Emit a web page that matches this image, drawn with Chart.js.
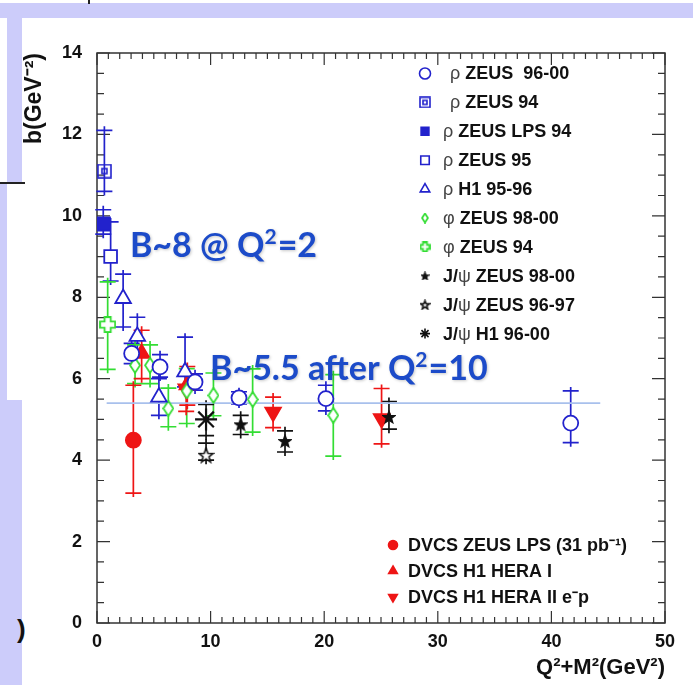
<!DOCTYPE html>
<html>
<head>
<meta charset="utf-8">
<script src="https://cdn.jsdelivr.net/npm/chart.js@4.4.1/dist/chart.umd.min.js"></script>
<style>
body{margin:0;background:#fff;}
#wrap{position:relative;width:693px;height:685px;overflow:hidden;background:#fff;}
.band{position:absolute;background:#ccccfa;}
.blk{position:absolute;background:#222;}
canvas{position:absolute;left:0;top:0;}
#paren{position:absolute;left:17px;top:614px;font:bold 26px "Liberation Sans",Arial,sans-serif;color:#111;}
</style>
</head>
<body>
<div id="wrap">
  <div class="band" style="left:0;top:3px;width:693px;height:15px"></div>
  <div class="band" style="left:7px;top:3px;width:15px;height:180px"></div>
  <div class="band" style="left:0;top:183px;width:7px;height:502px"></div>
  <div class="band" style="left:0;top:400px;width:22px;height:285px"></div>
  <div class="blk" style="left:0;top:182px;width:25px;height:2px"></div>
  <div class="blk" style="left:88px;top:0;width:2px;height:4px"></div>
  <div id="paren">)</div>
  <canvas id="myChart" width="693" height="685"></canvas>
</div>
<script>
// values: x = Q^2+M^2 (GeV^2), y = b (GeV^-2), asymmetric errors
const rhoZeus9600X  = [3.05, 5.55, 8.63, 12.5, 20.15, 41.7];
const rhoZeus9600Y  = [6.62, 6.29, 5.92, 5.53, 5.51, 4.91];
const rhoZeus9600Up = [0.25, 0.3, 0.2, 0.15, 0.33, 0.79];
const rhoZeus9600Dn = [0.25, 0.25, 0.2, 0.15, 0.3, 0.48];

const rhoZeus94X = [0.65], rhoZeus94Y = [11.1], rhoZeus94Up = [1.0], rhoZeus94Dn = [0.5];
const rhoLps94X = [0.55], rhoLps94Y = [9.8], rhoLps94Up = [0.35], rhoLps94Dn = [0.25];
const rhoZeus95X = [1.2], rhoZeus95Y = [9.0], rhoZeus95Up = [0.85], rhoZeus95Dn = [0.6];

const rhoH1X  = [2.3, 3.55, 5.45, 7.75];
const rhoH1Y  = [7.97, 7.04, 5.55, 6.17];
const rhoH1Up = [0.6, 0.47, 0.45, 0.85];
const rhoH1Dn = [0.7, 0.4, 0.45, 0.37];

const phiZeus9800X  = [3.35, 4.67, 6.28, 7.9, 10.25, 13.7, 20.8];
const phiZeus9800Y  = [6.33, 6.33, 5.27, 5.7, 5.59, 5.49, 5.1];
const phiZeus9800Up = [0.5, 0.5, 0.5, 0.55, 0.55, 0.75, 1.0];
const phiZeus9800Dn = [0.45, 0.45, 0.45, 0.8, 0.5, 0.8, 1.0];

const phiZeus94X = [0.94], phiZeus94Y = [7.33], phiZeus94Up = [1.05], phiZeus94Dn = [1.1];

const jpsiZeus9800X  = [12.65, 16.55, 25.7];
const jpsiZeus9800Y  = [4.88, 4.47, 5.06];
const jpsiZeus9800Up = [0.22, 0.25, 0.38];
const jpsiZeus9800Dn = [0.25, 0.27, 0.3];

const jpsiZeus9697X = [9.6], jpsiZeus9697Y = [4.12], jpsiZeus9697Up = [0.3], jpsiZeus9697Dn = [0.12];
const jpsiH1X = [9.6], jpsiH1Y = [5.0], jpsiH1Up = [0.37], jpsiH1Dn = [0.4];

const dvcsZeusX = [3.2], dvcsZeusY = [4.49], dvcsZeusUp = [1.35], dvcsZeusDn = [1.3];
const dvcsH1IX  = [3.93, 7.95], dvcsH1IY = [6.62, 5.85], dvcsH1IUp = [0.57, 0.45], dvcsH1IDn = [0.62, 0.5];
const dvcsH1IIX  = [7.85, 15.5, 25.05];
const dvcsH1IIY  = [5.75, 5.18, 5.02];
const dvcsH1IIUp = [0.35, 0.37, 0.74];
const dvcsH1IIDn = [0.55, 0.38, 0.62];

const guideX = [0.85, 44.3], guideY = [5.4, 5.4];

// slide annotations; "^" marks a superscript run
const notes = [
  {parts: ['B~8 @ Q', '^2', '=2'], x: 2.9, y: 9.28},
  {parts: ['B~5.5 after Q', '^2', '=10'], x: 9.95, y: 6.26}
];

const BLUE = '#2222cc', GREEN = '#33dd33', RED = '#ee1515', BLACK = '#111111';

// little canvases for the ROOT markers Chart.js doesn't have
function icon(w, h, draw) {
  const c = document.createElement('canvas');
  c.width = w; c.height = h;
  draw(c.getContext('2d'), w, h);
  return c;
}
function starPath(g, cx, cy, R, r) {
  g.beginPath();
  for (let i = 0; i < 10; i++) {
    const a = -Math.PI / 2 + i * Math.PI / 5, rr = i % 2 ? r : R;
    g.lineTo(cx + rr * Math.cos(a), cy + rr * Math.sin(a));
  }
  g.closePath();
}
function sqInSq(s) {
  return icon(s, s, (g, w) => {
    g.strokeStyle = BLUE; g.lineWidth = 1.6;
    g.strokeRect(1, 1, w - 2, w - 2);
    const k = Math.round(w * 0.32);
    g.strokeRect(k, k, w - 2 * k, w - 2 * k);
  });
}
function openPlus(s) {
  return icon(s, s, (g, w) => {
    const a = w * 0.32, b = w - a, e = 1;
    g.strokeStyle = GREEN; g.lineWidth = 1.8; g.fillStyle = '#fff';
    g.beginPath();
    g.moveTo(a, e); g.lineTo(b, e); g.lineTo(b, a); g.lineTo(w - e, a); g.lineTo(w - e, b);
    g.lineTo(b, b); g.lineTo(b, w - e); g.lineTo(a, w - e); g.lineTo(a, b); g.lineTo(e, b);
    g.lineTo(e, a); g.lineTo(a, a); g.closePath();
    g.fill(); g.stroke();
  });
}
function diamond(w, h) {
  return icon(w, h, (g) => {
    g.strokeStyle = GREEN; g.lineWidth = 1.8; g.fillStyle = '#fff';
    g.beginPath();
    g.moveTo(w / 2, 1); g.lineTo(w - 1, h / 2); g.lineTo(w / 2, h - 1); g.lineTo(1, h / 2);
    g.closePath(); g.fill(); g.stroke();
  });
}
function star(s, filled) {
  return icon(s, s, (g, w) => {
    starPath(g, w / 2, w / 2 + 0.5, w / 2 - 1, (w / 2 - 1) * 0.42);
    g.lineWidth = 1.6; g.strokeStyle = BLACK; g.fillStyle = filled ? BLACK : '#fff';
    g.fill(); g.stroke();
  });
}

function pts(xs, ys) {
  return xs.map((x, i) => ({x: x, y: ys[i]}));
}
function series(label, xs, ys, up, dn, color, style, legStyle) {
  return Object.assign({
    label: label,
    data: pts(xs, ys),
    errUp: up, errDn: dn,
    borderColor: color,
    backgroundColor: color,
    borderWidth: 1.8,
    showLine: false,
    legendStyle: legStyle
  }, style);
}

const datasets = [
  series('ρ ZEUS  96-00', rhoZeus9600X, rhoZeus9600Y, rhoZeus9600Up, rhoZeus9600Dn, BLUE,
    {pointStyle: 'circle', pointRadius: 7.5, backgroundColor: '#fff'},
    {pointStyle: 'circle', radius: 5.5, fill: false, indent: 7}),
  series('ρ ZEUS 94', rhoZeus94X, rhoZeus94Y, rhoZeus94Up, rhoZeus94Dn, BLUE,
    {pointStyle: sqInSq(15), pointRadius: 8},
    {pointStyle: sqInSq(12), indent: 7}),
  series('ρ ZEUS LPS 94', rhoLps94X, rhoLps94Y, rhoLps94Up, rhoLps94Dn, BLUE,
    {pointStyle: 'rect', pointRadius: 9.5},
    {pointStyle: 'rect', radius: 5.5, fill: true}),
  series('ρ ZEUS 95', rhoZeus95X, rhoZeus95Y, rhoZeus95Up, rhoZeus95Dn, BLUE,
    {pointStyle: 'rect', pointRadius: 9, backgroundColor: '#fff'},
    {pointStyle: 'rect', radius: 6, fill: false}),
  series('ρ H1 95-96', rhoH1X, rhoH1Y, rhoH1Up, rhoH1Dn, BLUE,
    {pointStyle: 'triangle', pointRadius: 9, backgroundColor: '#fff'},
    {pointStyle: 'triangle', radius: 5.5, fill: false}),
  series('φ ZEUS 98-00', phiZeus9800X, phiZeus9800Y, phiZeus9800Up, phiZeus9800Dn, GREEN,
    {pointStyle: diamond(12, 17), pointRadius: 8},
    {pointStyle: diamond(8, 11)}),
  series('φ ZEUS 94', phiZeus94X, phiZeus94Y, phiZeus94Up, phiZeus94Dn, GREEN,
    {pointStyle: openPlus(17), pointRadius: 8},
    {pointStyle: openPlus(11)}),
  series('J/ψ ZEUS 98-00', jpsiZeus9800X, jpsiZeus9800Y, jpsiZeus9800Up, jpsiZeus9800Dn, BLACK,
    {pointStyle: star(14, true), pointRadius: 7},
    {pointStyle: star(9, true)}),
  series('J/ψ ZEUS 96-97', jpsiZeus9697X, jpsiZeus9697Y, jpsiZeus9697Up, jpsiZeus9697Dn, BLACK,
    {pointStyle: star(17, false), pointRadius: 8},
    {pointStyle: star(11, false)}),
  series('J/ψ H1 96-00', jpsiH1X, jpsiH1Y, jpsiH1Up, jpsiH1Dn, BLACK,
    {pointStyle: 'star', pointRadius: 11, borderWidth: 2.2},
    {pointStyle: 'star', radius: 5, fill: false}),
  series('DVCS ZEUS LPS (31 pb⁻¹)', dvcsZeusX, dvcsZeusY, dvcsZeusUp, dvcsZeusDn, RED,
    {pointStyle: 'circle', pointRadius: 7.5},
    {pointStyle: 'circle', radius: 4.5, fill: true}),
  series('DVCS H1 HERA I', dvcsH1IX, dvcsH1IY, dvcsH1IUp, dvcsH1IDn, RED,
    {pointStyle: 'triangle', pointRadius: 9},
    {pointStyle: 'triangle', radius: 5, fill: true}),
  series('DVCS H1 HERA II e⁻p', dvcsH1IIX, dvcsH1IIY, dvcsH1IIUp, dvcsH1IIDn, RED,
    {pointStyle: 'triangle', pointRadius: 9, rotation: 180},
    {pointStyle: 'triangle', radius: 5, fill: true, rotation: 180}),
  {
    label: 'guide',
    type: 'line',
    data: pts(guideX, guideY),
    borderColor: '#a8c0ec',
    borderWidth: 1.6,
    pointRadius: 0,
    order: 20
  }
];

// error bars, ROOT style: line with a short cap near each end
const errorBars = {
  id: 'errorBars',
  beforeDatasetsDraw(chart) {
    const ctx = chart.ctx, ys = chart.scales.y;
    chart.data.datasets.forEach((ds, i) => {
      if (!ds.errUp) return;
      const meta = chart.getDatasetMeta(i);
      ctx.save();
      ctx.strokeStyle = ds.borderColor;
      ctx.lineWidth = 1.7;
      ctx.beginPath();
      meta.data.forEach((el, j) => {
        const v = ds.data[j].y;
        const top = ys.getPixelForValue(v + ds.errUp[j]);
        const bot = ys.getPixelForValue(v - ds.errDn[j]);
        ctx.moveTo(el.x, top - 4); ctx.lineTo(el.x, bot + 4);
        ctx.moveTo(el.x - 8, top); ctx.lineTo(el.x + 8, top);
        ctx.moveTo(el.x - 8, bot); ctx.lineTo(el.x + 8, bot);
      });
      ctx.stroke();
      ctx.restore();
    });
  }
};

// frame with inward ticks on all four sides
const rootFrame = {
  id: 'rootFrame',
  beforeDatasetsDraw(chart) {
    const {ctx, chartArea: a, scales: {x, y}} = chart;
    ctx.save();
    ctx.strokeStyle = '#333';
    ctx.lineWidth = 1.5;
    ctx.strokeRect(a.left, a.top, a.right - a.left, a.bottom - a.top);
    ctx.lineWidth = 1.2;
    ctx.beginPath();
    for (let v = 0; v <= 50; v++) {
      const p = x.getPixelForValue(v), len = v % 10 === 0 ? 12 : 6;
      ctx.moveTo(p, a.bottom); ctx.lineTo(p, a.bottom - len);
      ctx.moveTo(p, a.top); ctx.lineTo(p, a.top + len);
    }
    for (let v = 0; v <= 14; v += 0.5) {
      const p = y.getPixelForValue(v), len = v % 2 === 0 ? 13 : 7;
      ctx.moveTo(a.left, p); ctx.lineTo(a.left + len, p);
      ctx.moveTo(a.right, p); ctx.lineTo(a.right - len, p);
    }
    ctx.stroke();
    ctx.restore();
  }
};

function drawLabel(ctx, text, x, y, size) {
  let cx = x;
  for (const ch of text) {
    const greek = 'ρφψ'.includes(ch);
    ctx.font = (greek ? '' : 'bold ') + size + 'px "Liberation Sans", Arial, sans-serif';
    ctx.fillStyle = greek ? '#444' : '#111';
    ctx.fillText(ch, cx, y);
    cx += ctx.measureText(ch).width;
  }
}

const rootLegend = {
  id: 'rootLegend',
  afterDraw(chart) {
    const ctx = chart.ctx;
    ctx.save();
    ctx.textBaseline = 'middle';
    chart.data.datasets.forEach((ds, i) => {
      if (!ds.legendStyle) return;
      const st = ds.legendStyle;
      let sx, tx, ty;
      if (i < 10) { sx = 425; tx = 443 + (st.indent || 0); ty = 73.5 + i * 28.9; }
      else { sx = 393; tx = 408; ty = 545 + (i - 10) * 26; }
      ctx.strokeStyle = ds.borderColor;
      ctx.fillStyle = st.fill === false ? 'rgba(0,0,0,0)' : ds.borderColor;
      ctx.lineWidth = 1.6;
      Chart.helpers.drawPoint(ctx, {
        pointStyle: st.pointStyle, radius: st.radius || 5,
        rotation: st.rotation || 0, borderWidth: 1.6
      }, sx, ty);
      drawLabel(ctx, ds.label, tx, ty + 1, 18);
    });
    ctx.restore();
  }
};

const annotations = {
  id: 'annotations',
  afterDraw(chart) {
    const {ctx, scales: {x, y}} = chart;
    ctx.save();
    ctx.textBaseline = 'alphabetic';
    ctx.shadowColor = 'rgba(0,0,0,0.22)';
    ctx.shadowBlur = 3;
    ctx.shadowOffsetX = 1;
    ctx.shadowOffsetY = 1;
    ctx.fillStyle = '#1c4bc9';
    notes.forEach(n => {
      let cx = x.getPixelForValue(n.x);
      const base = y.getPixelForValue(n.y) + 12;
      n.parts.forEach(p => {
        const sup = p[0] === '^';
        const t = sup ? p.slice(1) : p;
        ctx.font = 'bold ' + (sup ? 21 : 34) + 'px Lato, "Open Sans", sans-serif';
        ctx.fillText(t, cx, sup ? base - 13 : base);
        cx += ctx.measureText(t).width + (sup ? 1 : 0);
      });
    });
    ctx.restore();
  }
};

const tickFont = {family: '"Liberation Sans", Arial, sans-serif', size: 18, weight: 'bold'};

new Chart(document.getElementById('myChart'), {
  type: 'scatter',
  data: {datasets: datasets},
  options: {
    responsive: false,
    animation: false,
    events: [],
    layout: {padding: {left: 0, top: 53, right: 28, bottom: 0}},
    plugins: {legend: {display: false}, tooltip: {enabled: false}},
    scales: {
      x: {
        type: 'linear', min: 0, max: 50,
        afterFit: s => { s.height = 62; },
        grid: {display: false, drawTicks: false},
        border: {display: false},
        ticks: {stepSize: 10, padding: 8, color: '#111', font: tickFont},
        title: {
          display: true, text: 'Q²+M²(GeV²)', align: 'end', color: '#111',
          font: {family: '"Liberation Sans", Arial, sans-serif', size: 22, weight: 'bold'},
          padding: {top: 0, bottom: 4}
        }
      },
      y: {
        type: 'linear', min: 0, max: 14,
        afterFit: s => { s.width = 97; },
        grid: {display: false, drawTicks: false},
        border: {display: false},
        ticks: {stepSize: 2, padding: 15, color: '#111', font: tickFont},
        title: {
          display: true, text: 'b(GeV⁻²)', align: 'end', color: '#111',
          font: {family: '"Liberation Sans", Arial, sans-serif', size: 23, weight: 'bold'},
          padding: {top: 21, bottom: 0}
        }
      }
    }
  },
  plugins: [rootFrame, errorBars, rootLegend, annotations]
});
</script>
</body>
</html>
